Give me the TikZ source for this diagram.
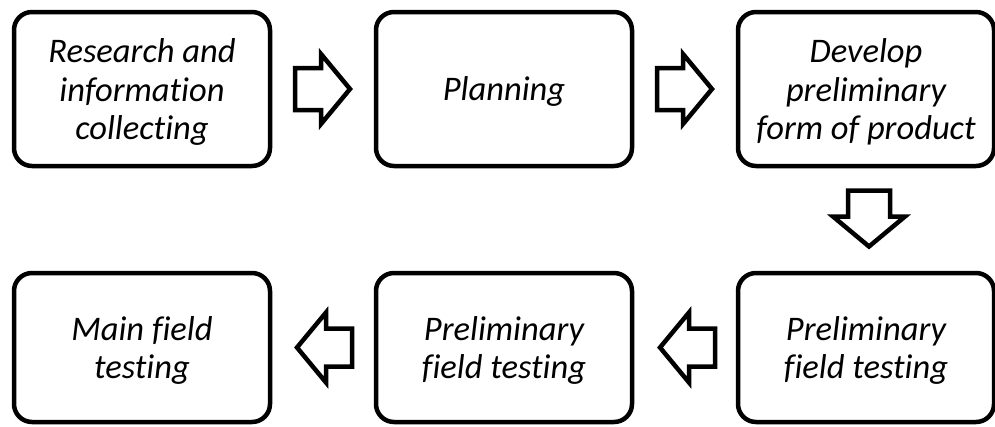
\documentclass[tikz,border=0pt]{standalone}
\usepackage{fontspec}
\setmainfont[Ligatures={NoCommon}]{Carlito}
\usetikzlibrary{calc}
\begin{document}
\begin{tikzpicture}[x=1pt,y=-1pt,
  box/.style={draw, line width=4.5pt, rounded corners=18pt, minimum width=256pt, inner sep=0pt},
  toprow/.style={box, minimum height=154pt},
  botrow/.style={box, minimum height=149pt},
  txt/.style={align=center, inner sep=0pt, font=\fontsize{34.5}{38.3}\selectfont\itshape},
  blockarrow/.style={draw, line width=4.5pt, miter limit=10, fill=white}]
\useasboundingbox (0,0) rectangle (995,426);
\node[toprow] (b1) at (142,89) {};
\node[toprow] (b2) at (504,89) {};
\node[toprow] (b3) at (866,89) {};
\node[botrow] (b4) at (142,347.5) {};
\node[botrow] (b5) at (504,347.5) {};
\node[botrow] (b6) at (866,347.5) {};
\node[txt] (t1) at ($(b1.center)+(0,3)$) {Research and\\information\\collecting};
\node[txt] (t2) at ($(b2.center)+(0,2)$) {Planning};
\node[txt] (t3) at ($(b3.center)+(0,3)$) {Develop\\preliminary\\form of product};
\node[txt] (t4) at ($(b4.center)+(0,3)$) {Main field\\testing};
\node[txt] (t5) at ($(b5.center)+(0,3)$) {Preliminary\\field testing};
\node[txt] (t6) at ($(b6.center)+(0,3)$) {Preliminary\\field testing};
\coordinate (a1) at ($(b1.east)!0.5!(b2.west)$);
\coordinate (a2) at ($(b2.east)!0.5!(b3.west)$);
\coordinate (a3) at ($(b3.south)!0.5!(b6.north)+(3,0)$);
\coordinate (a4) at ($(b6.west)!0.5!(b5.east)+(2,0)$);
\coordinate (a5) at ($(b5.west)!0.5!(b4.east)+(1,0)$);
\draw[blockarrow, shift={(a1)}] (-28,-21) -- (-2,-21) -- (-2,-35) -- (27,0) -- (-2,35) -- (-2,21) -- (-28,21) -- cycle;
\draw[blockarrow, shift={(a2)}] (-28,-21) -- (-2,-21) -- (-2,-35) -- (27,0) -- (-2,35) -- (-2,21) -- (-28,21) -- cycle;
\draw[blockarrow, shift={(a3)}] (-21,-29) -- (-21,-3) -- (-36,-3) -- (0,27) -- (36,-3) -- (21,-3) -- (21,-29) -- cycle;
\draw[blockarrow, shift={(a4)}, xscale=-1] (-28,-19) -- (-2,-19) -- (-2,-35) -- (27,0) -- (-2,35) -- (-2,19) -- (-28,19) -- cycle;
\draw[blockarrow, shift={(a5)}, xscale=-1] (-28,-19) -- (-2,-19) -- (-2,-35) -- (27,0) -- (-2,35) -- (-2,19) -- (-28,19) -- cycle;
\end{tikzpicture}
\end{document}
